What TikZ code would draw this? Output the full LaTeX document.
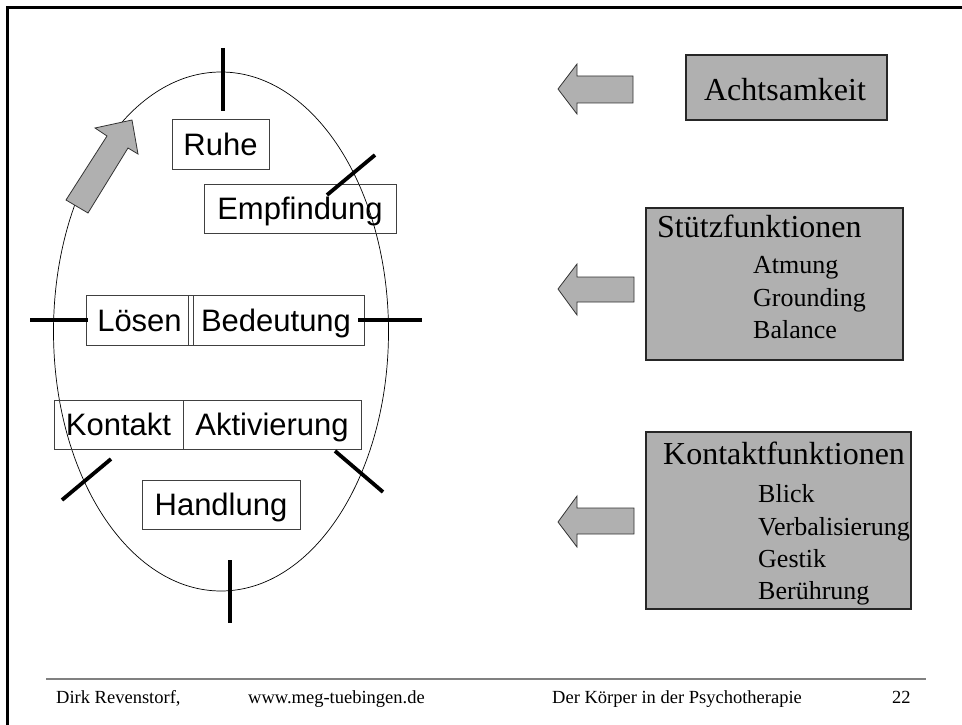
\documentclass[tikz,border=0pt]{standalone}
\usepackage{fontspec}
\setmainfont{Liberation Serif}
\newfontfamily\arialfont{Liberation Sans}
\definecolor{boxgray}{RGB}{176,176,176}
\definecolor{rulegray}{RGB}{128,128,128}
\begin{document}
\begin{tikzpicture}[x=1pt,y=-1pt,
  stagebox/.style={draw=black!75, line width=0.9pt, inner sep=0pt,
    font=\arialfont\fontsize{31}{37}\selectfont, text height=22.2pt, text depth=0pt},
  infobox/.style={draw=black!85, line width=1.2pt, fill=boxgray, inner sep=0pt},
  blockarrow/.style={draw=black!80, line width=0.8pt, fill=boxgray},
  phasetick/.style={line width=3.8pt, line cap=butt},
  titletext/.style={font=\fontsize{32}{38}\selectfont, inner sep=0pt},
  itemtext/.style={font=\fontsize{26}{31}\selectfont, inner sep=0pt, anchor=base west},
  foottext/.style={font=\fontsize{18.5}{22}\selectfont, inner sep=0pt, anchor=base west}]
\useasboundingbox (0,0) rectangle (962,725);

% slide frame
\draw[line width=3pt] (7,725) -- (7,8) -- (962,8);

% cycle
\draw[line width=0.7pt] (221,331.5) ellipse [x radius=167.5pt, y radius=259.5pt];

% direction of the cycle
\filldraw[blockarrow] (132,120) -- (138,154) -- (128,148) -- (88,213) -- (66,200) -- (107,136) -- (95,128) -- cycle;

% stages
\node[stagebox, minimum width=97pt, minimum height=50pt] (ruhe) at (220.5,144) {Ruhe};
\node[stagebox, minimum width=192pt, minimum height=49pt] (empf) at (300,208.5) {Empfindung};
\node[stagebox, minimum width=107pt, minimum height=50pt] (loesen) at (139.5,320) {Lösen};
\node[stagebox, minimum width=176pt, minimum height=50pt] (bed) at (276,320) {Bedeutung};
\node[stagebox, minimum width=129pt, minimum height=49pt] (kontakt) at (118.5,424.5) {Kontakt};
\node[stagebox, minimum width=178pt, minimum height=49pt] (aktiv) at (272,424.5) {Aktivierung};
\node[stagebox, minimum width=158pt, minimum height=49pt] (handl) at (221,504.5) {Handlung};

% phase boundaries
\coordinate (t1a) at (223,48);  \coordinate (t1b) at (223,111);
\coordinate (t2a) at (327,195); \coordinate (t2b) at (375,155);
\coordinate (t3a) at (30,320);  \coordinate (t3b) at (88,320);
\coordinate (t4a) at (358,320); \coordinate (t4b) at (422,320);
\coordinate (t5a) at (62,500);  \coordinate (t5b) at (111,459);
\coordinate (t6a) at (335,451); \coordinate (t6b) at (383,492);
\coordinate (t7a) at (230,560); \coordinate (t7b) at (230,623);
\foreach \i in {1,...,7} \draw[phasetick] (t\i a) -- (t\i b);

% right column: Achtsamkeit
\filldraw[blockarrow] (558,89) -- (577,64) -- (577,76) -- (633,76) -- (633,103) -- (577,103) -- (577,114) -- cycle;
\node[infobox, minimum width=201pt, minimum height=65pt] (acht) at (786.5,87.5) {};
\node[titletext, anchor=base] (achttxt) at (785,101) {Achtsamkeit};

% right column: Stützfunktionen
\filldraw[blockarrow] (558,289) -- (577,264) -- (577,277) -- (634,277) -- (634,302) -- (577,302) -- (577,315) -- cycle;
\node[infobox, minimum width=257pt, minimum height=152pt] (stuetz) at (774.5,284) {};
\node[titletext, anchor=base west] (stuetztxt) at (657,237) {Stützfunktionen};
\node[itemtext] (s1) at (753,273) {Atmung};
\node[itemtext] (s2) at (753,306) {Grounding};
\node[itemtext] (s3) at (753,338) {Balance};

% right column: Kontaktfunktionen
\filldraw[blockarrow] (558,522) -- (577,496) -- (577,508) -- (634,508) -- (634,534) -- (577,534) -- (577,547) -- cycle;
\node[infobox, minimum width=265pt, minimum height=177pt] (kontf) at (778.5,520.5) {};
\node[titletext, anchor=base west] (konttxt) at (663,464) {Kontaktfunktionen};
\node[itemtext] (k1) at (758,502) {Blick};
\node[itemtext] (k2) at (758,535) {Verbalisierung};
\node[itemtext] (k3) at (758,567) {Gestik};
\node[itemtext] (k4) at (758,599) {Berührung};

% footer
\draw[rulegray, line width=1.3pt] (46,679) -- (926,679);
\node[foottext] (f1) at (56,703) {Dirk Revenstorf,};
\node[foottext] (f2) at (248,703) {www.meg-tuebingen.de};
\node[foottext] (f3) at (552,703) {Der Körper in der Psychotherapie};
\node[foottext] (f4) at (892,703) {22};
\end{tikzpicture}
\end{document}
